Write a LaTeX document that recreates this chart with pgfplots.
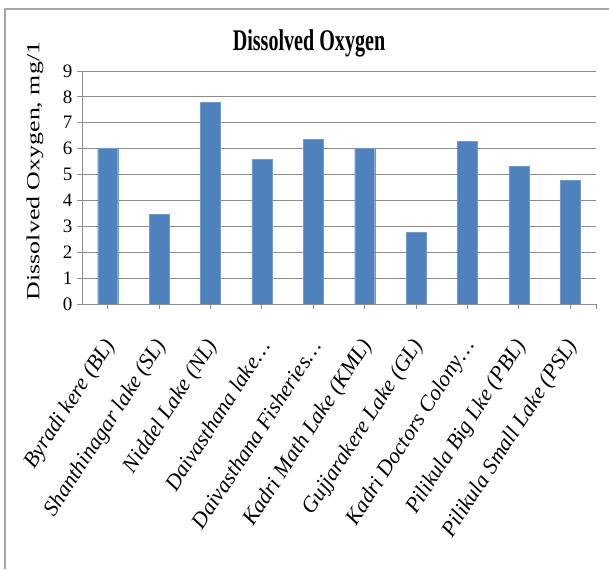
\documentclass[border=0pt]{standalone}
\usepackage{fontspec}
\setmainfont{Liberation Serif}
\usepackage{pgfplots}
\pgfplotsset{compat=1.18}
\definecolor{barblue}{HTML}{4F81BD}
\definecolor{gridgray}{HTML}{8C8C8C}
\begin{document}
\begin{tikzpicture}[x=1pt,y=1pt]
\draw[gray!70, line width=1.2pt] (5,0) -- (5,560) -- (609,560);
\begin{axis}[
  at={(82pt,265pt)}, anchor=south west,
  scale only axis, width=514pt, height=233pt,
  ymin=0, ymax=9, ytick={0,1,...,9},
  xmin=-0.5, xmax=9.5,
  xtick={0,1,...,9},
  xticklabels={Byradi kere (BL), Shanthinagar lake (SL), Niddel Lake (NL), Daivasthana lake…, Daivasthana Fisheries…, Kadri Math Lake (KML), Gujjarakere Lake (GL), Kadri Doctors Colony…, Pilikula Big Lke (PBL), Pilikula Small Lake (PSL)},
  extra x ticks={9.5}, extra x tick labels={},
  ybar, bar width=20pt,
  ymajorgrids, grid style={gridgray, line width=0.9pt},
  extra x tick style={grid=none},
  axis line style={gridgray, line width=0.9pt},
  axis x line*=bottom, axis y line*=left,
  tick style={gridgray, line width=0.9pt},
  major tick length=5pt,
  tick align=outside,
  /pgf/number format/assume math mode=true,
  yticklabel style={font=\fontsize{19}{20}\selectfont, xshift=-1pt},
  xticklabel style={font=\fontsize{22}{24}\selectfont\itshape, inner sep=0pt, xshift=3pt, yshift=-33pt, rotate=57, anchor=east},
  ylabel={\scalebox{1.4}[1]{Dissolved Oxygen, mg/1}},
  ylabel style={font=\fontsize{18.5}{20}\selectfont, at={(axis description cs:-0.0914,0.571)}, anchor=center},
  title={\scalebox{0.67}[1]{Dissolved Oxygen}},
  title style={font=\fontsize{30}{34}\selectfont\bfseries, at={(axis description cs:0.4416,1.0614)}, anchor=base},
]
\addplot[fill=barblue, draw=barblue!80!white, bar shift=0pt] coordinates {
(0,6.0) (1,3.46) (2,7.79) (3,5.59) (4,6.37) (5,6.0) (6,2.78) (7,6.28) (8,5.32) (9,4.78)
};
\end{axis}
\pgfresetboundingbox
\path[use as bounding box] (0,0) rectangle (609,569);
\end{tikzpicture}
\end{document}
